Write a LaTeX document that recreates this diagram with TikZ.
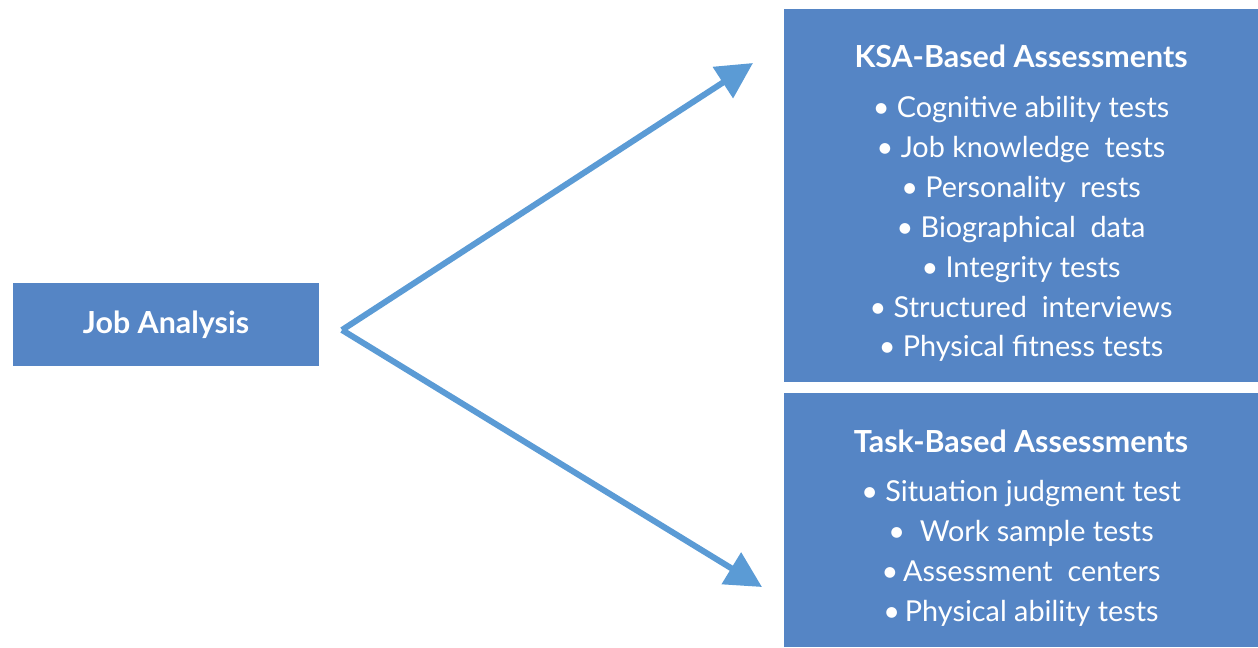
\documentclass[tikz,border=0pt]{standalone}
\usepackage{fontspec}
\setmainfont{Lato}
\usetikzlibrary{arrows.meta}
\definecolor{boxblue}{HTML}{5585C5}
\definecolor{arrowblue}{HTML}{5B9BD5}
\begin{document}
\begin{tikzpicture}[
  x=0.02cm, y=-0.02cm,
  panel/.style={rectangle, fill=boxblue, text=white, inner sep=0pt, align=center,
    font=\fontsize{16.4}{22.7}\selectfont},
  heading/.style={font=\fontsize{17.3}{22.7}\selectfont\bfseries},
  arrow/.style={-{Triangle[length=0.72cm, width=0.72cm]}, line width=0.12cm, draw=arrowblue}
]
\useasboundingbox (0,0) rectangle (1258,647);

% Source
\node[panel, heading, minimum width=6.12cm, minimum height=1.66cm] (job) at (166,324.5) {Job Analysis};

% Assessments
\node[panel, minimum width=9.48cm, minimum height=7.46cm] (ksa) at (1021,195.5)
  {\rule{0pt}{22pt}{\fontsize{17.3}{22.7}\selectfont\bfseries KSA-Based Assessments}\\[5.7pt]
   • Cognitive ability tests\\
   • Job knowledge\ \ tests\\
   • Personality\ \ rests\\
   • Biographical\ \ data\\
   • Integrity tests\\
   • Structured\ \ interviews\\
   • Physical fitness tests};
\node[panel, minimum width=9.48cm, minimum height=5.08cm] (task) at (1021,520)
  {\rule{0pt}{22pt}{\fontsize{17.3}{22.7}\selectfont\bfseries Task-Based Assessments}\\[5.7pt]
   • Situation judgment test\\
   • \ Work sample tests\\
   •\,Assessment\ \ centers\\
   •\,Physical ability tests};

% Arrows
\coordinate (apex) at (342,330);
\coordinate (ksatip) at (753,63);
\coordinate (tasktip) at (762,587);
\draw[arrow] (apex) -- (ksatip);
\draw[arrow] (apex) -- (tasktip);

\end{tikzpicture}
\end{document}
